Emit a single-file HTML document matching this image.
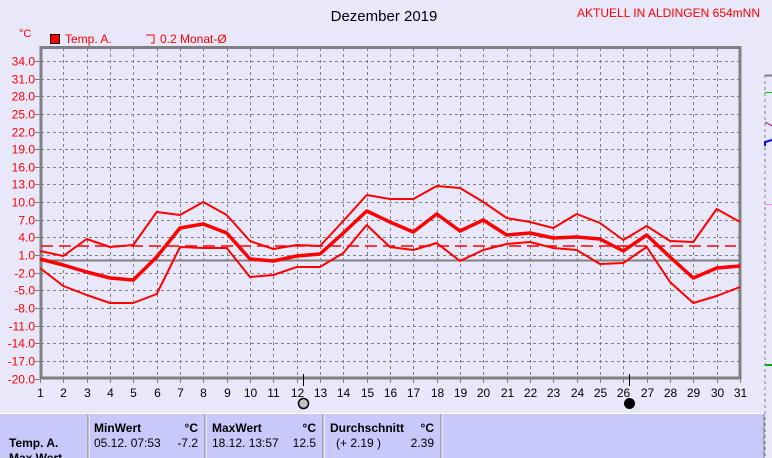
<!DOCTYPE html>
<html><head><meta charset="utf-8"><style>
html,body{margin:0;padding:0;background:#e8e8fa;}
svg{display:block;font-family:"Liberation Sans",sans-serif;}
</style></head><body>
<svg width="772" height="458" xmlns="http://www.w3.org/2000/svg">
<rect width="772" height="458" fill="#e8e8fa"/>
<text x="384" y="21" font-size="15" text-anchor="middle" fill="#000">Dezember 2019</text>
<text x="760" y="17" font-size="12" text-anchor="end" fill="#ff0000">AKTUELL IN ALDINGEN 654mNN</text>
<text x="19" y="37" font-size="11" fill="#ff0000">°C</text>
<rect x="50.5" y="34.5" width="9" height="9" fill="#ff0000" stroke="#000"/>
<text x="65" y="43" font-size="12" fill="#ff0000">Temp. A.</text>
<path d="M146 35 H154 V43 H151" fill="none" stroke="#ff0000"/>
<text x="160" y="43" font-size="12" fill="#ff0000">0.2 Monat-Ø</text>
<g id="grid" stroke="#808080" stroke-dasharray="3,3" stroke-width="1">
<script type="text/javascript"></script>
</g>
<g id="all"></g>
<script>
(function(){
var ns="http://www.w3.org/2000/svg";
var g=document.getElementById("all");
function el(n,a,t){var e=document.createElementNS(ns,n);for(var k in a)e.setAttribute(k,a[k]);if(t!==undefined)e.textContent=t;g.appendChild(e);return e;}
function X(i){return 40+(i-1)*23.333;}
function Y(v){return 61+(34-v)*5.88;}
// horizontal grid + labels
for(var v=34;v>=-20;v-=3){var y=Math.round(Y(v))+0.5;
 if(v>-20) el("line",{x1:41,x2:740,y1:y,y2:y,stroke:"#808080","stroke-dasharray":"3,3"});
 el("line",{x1:35,x2:40,y1:y,y2:y,stroke:"#808080"});
 el("text",{x:35,y:y+4,"font-size":12,"text-anchor":"end",fill:"#ff0000"},v.toFixed(1));}
// vertical grid + labels
for(var i=1;i<=31;i++){var x=Math.round(X(i))+0.5;
 if(i>1&&i<31) el("line",{x1:x,x2:x,y1:48,y2:378,stroke:"#808080","stroke-dasharray":"3,3"});
 el("line",{x1:x,x2:x,y1:378,y2:383,stroke:"#808080"});
 el("text",{x:x,y:397,"font-size":12,"text-anchor":"middle",fill:"#000"},""+i);}
// zero line
el("line",{x1:41,x2:740,y1:260.5,y2:260.5,stroke:"#808080","stroke-width":2});
// frame
el("path",{d:"M41 378 V47.5 H740 V378 H41",fill:"none",stroke:"#808080","stroke-width":3});
// mean dashed
el("line",{x1:41,x2:736,y1:246,y2:246,stroke:"#ff0000","stroke-dasharray":"12,6","stroke-width":1.5});
var up=[251,256,239,247,245,212,215,202,215,241,249,245,246,221,195,199,199,186,188,202,218,222,228,214,223,240,226,241,242,209,222];
var mn=[259,265,272,278,280,257,228,224,233,259,261,256,254,233,211,222,232,214,231,220,235,233,238,237,239,251,235,257,278,268,266];
var lo=[268,286,295,303,303,294,247,248,248,277,275,267,267,253,225,247,250,243,261,250,244,242,248,250,264,263,247,282,303,296,287];
function pl(a,w){var p=a.map(function(y,i){return X(i+1).toFixed(1)+","+y;}).join(" ");
 el("polyline",{points:p,fill:"none",stroke:"#ff0000","stroke-width":w,"stroke-linejoin":"round"});}
pl(up,2);pl(lo,2);pl(mn,3.5);
// moon markers
el("line",{x1:303.5,x2:303.5,y1:374,y2:386,stroke:"#000"});
el("circle",{cx:303.5,cy:403.5,r:5,fill:"#c0c0c0",stroke:"#000","stroke-width":1.5});
el("line",{x1:629.5,x2:629.5,y1:374,y2:386,stroke:"#000"});
el("circle",{cx:629.5,cy:403.5,r:5,fill:"#000",stroke:"#000"});
// right strip
el("line",{x1:765,x2:772,y1:75.5,y2:75.5,stroke:"#808080","stroke-width":2});
el("line",{x1:765,x2:765,y1:75,y2:458,stroke:"#808080","stroke-dasharray":"3,3"});
el("line",{x1:765,x2:772,y1:92.5,y2:92.5,stroke:"#00cc00"});
el("line",{x1:765,x2:772,y1:122,y2:126,stroke:"#800080"});
el("polyline",{points:"765,146 765,142 772,140",fill:"none",stroke:"#0000ff","stroke-width":2});
el("line",{x1:765,x2:772,y1:204.5,y2:204.5,stroke:"#ff80ff"});
el("line",{x1:765,x2:772,y1:365,y2:365,stroke:"#00aa00","stroke-width":2});
// table
el("rect",{x:0,y:413,width:764,height:45,fill:"#c8c8fa"});
el("line",{x1:0,x2:764,y1:413.5,y2:413.5,stroke:"#ffffff"});
[88,205,323,441].forEach(function(x){el("line",{x1:x,x2:x,y1:414,y2:458,stroke:"#808080"});el("line",{x1:x+1,x2:x+1,y1:414,y2:458,stroke:"#ffffff"});});
el("line",{x1:764,x2:764,y1:414,y2:458,stroke:"#808080"});
function t(x,y,s,b,a){el("text",{x:x,y:y,"font-size":12,"font-weight":b?"bold":"normal","text-anchor":a||"start",fill:"#000"},s);}
t(9,447,"Temp. A.",1);t(9,462,"Max Wert",1);
t(94,432,"MinWert",1);t(198,432,"°C",1,"end");
t(94,447,"05.12.  07:53");t(198,447,"-7.2",0,"end");
t(212,432,"MaxWert",1);t(316,432,"°C",1,"end");
t(212,447,"18.12.  13:57");t(316,447,"12.5",0,"end");
t(330,432,"Durchschnitt",1);t(434,432,"°C",1,"end");
t(336,447,"(+ 2.19 )");t(434,447,"2.39",0,"end");
})();
</script>
</svg>
</body></html>
